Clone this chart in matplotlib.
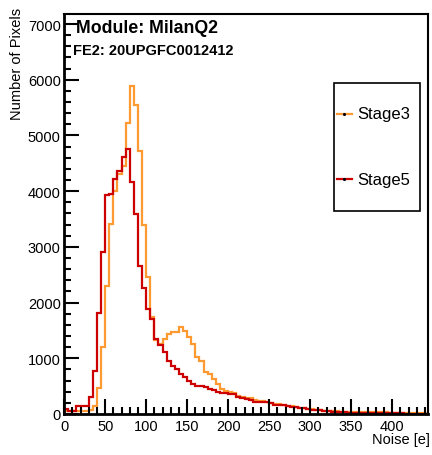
import numpy as np
import matplotlib
matplotlib.use("Agg")
import matplotlib.pyplot as plt
from matplotlib.ticker import MultipleLocator
from matplotlib.lines import Line2D
from matplotlib.patches import Rectangle

plt.rcParams['font.family'] = ['Liberation Sans', 'DejaVu Sans']

# ---- data ----
bin_edges = np.arange(0, 450, 5)  # 0..445, 89 bins of 5 e

stage3 = [50, 50, 50, 60, 60, 60, 70, 140, 460, 1200,
          2300, 3410, 4000, 4300, 4450, 5230, 5880, 5550, 4720, 3400,
          2460, 1750, 1330, 1257, 1346, 1436, 1466, 1480, 1556, 1496,
          1377, 1257, 1018, 957, 749, 718, 628, 539, 449, 419,
          390, 370, 330, 310, 295, 280, 250, 235, 225, 215,
          200, 185, 175, 160, 150, 140, 125, 115, 105, 95,
          85, 80, 70, 60, 55, 50, 45, 40, 38, 35,
          33, 32, 30, 30, 29, 28, 28, 27, 27, 26,
          26, 25, 25, 25, 24, 24, 23, 23, 22]

stage5 = [90, 50, 60, 140, 140, 140, 300, 780, 1810, 2910,
          3930, 3950, 4220, 4370, 4610, 4750, 4160, 3590, 2660, 2260,
          1885, 1700, 1350, 1230, 1110, 960, 870, 800, 720, 660,
          600, 540, 510, 500, 480, 450, 436, 400, 385, 380,
          365, 355, 300, 280, 270, 260, 220, 215, 210, 210,
          200, 165, 160, 155, 135, 130, 125, 105, 100, 95,
          80, 75, 65, 55, 45, 40, 35, 30, 28, 25,
          22, 20, 20, 18, 17, 15, 15, 13, 12, 12,
          10, 10, 9, 8, 8, 7, 7, 6, 6]

series_labels = ["Stage3", "Stage5"]
title_module = "Module: MilanQ2"
title_fe = "FE2: 20UPGFC0012412"
x_label = "Noise [e]"
y_label = "Number of Pixels"

orange = "#ff9a33"
red = "#cc0000"

W, H = 432, 456
fig = plt.figure(figsize=(W / 100, H / 100), dpi=100)
ax = fig.add_axes([64.2 / W, 1 - 415 / H, 363.8 / W, 400 / H])

ax.stairs(stage3, bin_edges, color=orange, lw=1.6, baseline=None)
ax.stairs(stage5, bin_edges, color=red, lw=1.6, baseline=None)

ax.set_xlim(0, 443.7)
ax.set_ylim(0, 7180)

ax.xaxis.set_major_locator(MultipleLocator(50))
ax.xaxis.set_minor_locator(MultipleLocator(10))
ax.yaxis.set_major_locator(MultipleLocator(1000))
ax.yaxis.set_minor_locator(MultipleLocator(200))
ax.tick_params(which='both', direction='in', top=False, right=False,
               width=1.5, color='black')
ax.tick_params(which='major', length=11)
ax.tick_params(which='minor', length=5)
ax.tick_params(axis='x', labelsize=10.5, pad=3.5)
ax.tick_params(axis='y', labelsize=10.5, pad=2.5)

for s in ['left', 'bottom']:
    ax.spines[s].set_linewidth(2)
for s in ['top', 'right']:
    ax.spines[s].set_linewidth(1.5)

fig.text(17 / W, 1 - 8 / H, y_label, rotation=90, ha='center', va='top', fontsize=10.5)
fig.text(430 / W, 1 - 440 / H, x_label, ha='right', va='center', fontsize=10.5)

ax.text(0.0324, 0.955, title_module, transform=ax.transAxes, fontsize=12.8,
        fontweight='bold', ha='left', va='baseline')
ax.text(0.024, 0.90, title_fe, transform=ax.transAxes, fontsize=10.5,
        fontweight='bold', ha='left', va='baseline')

# legend box (ROOT style)
lx0, lx1 = 0.742, 0.978
ly0, ly1 = 0.5075, 0.8275
ax.add_patch(Rectangle((lx0, ly0), lx1 - lx0, ly1 - ly0, transform=ax.transAxes,
                       fill=True, facecolor='white', edgecolor='black', lw=1.2, zorder=5))
for lab, col, yy in zip(series_labels, [orange, red], [0.75, 0.5875]):
    ax.add_line(Line2D([0.750, 0.791], [yy, yy], transform=ax.transAxes,
                       color=col, lw=1.6, zorder=6))
    ax.add_line(Line2D([0.770], [yy], transform=ax.transAxes, marker='.',
                       markersize=2.5, color='black', zorder=7))
    ax.text(0.805, yy, lab, transform=ax.transAxes, fontsize=12,
            ha='left', va='center', zorder=7)

fig.savefig("out.png", dpi=100)
